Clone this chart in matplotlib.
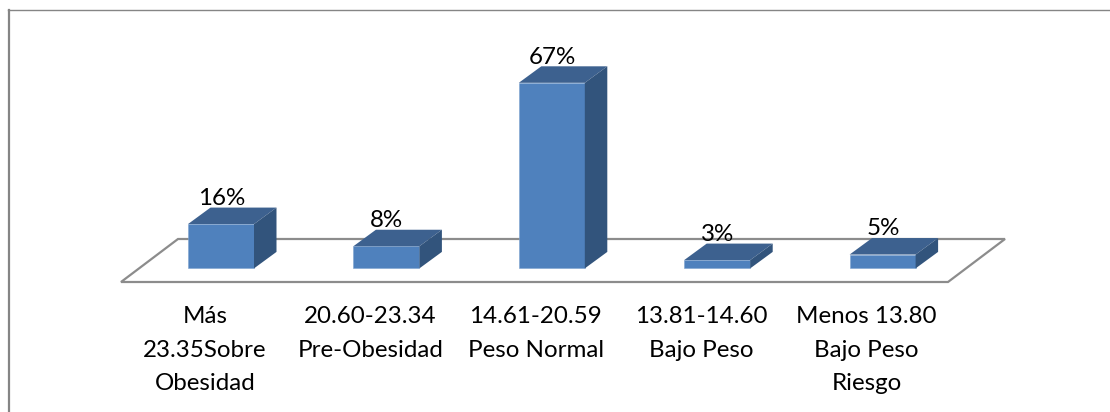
import matplotlib
matplotlib.use('Agg')
import matplotlib.pyplot as plt
from matplotlib.patches import Polygon

# Chart data
categories = ["Más\n23.35Sobre\nObesidad", "20.60-23.34\nPre-Obesidad", "14.61-20.59\nPeso Normal",
              "13.81-14.60\nBajo Peso", "Menos 13.80\nBajo Peso\nRiesgo"]
values = [16, 8, 67, 3, 5]
labels = ["16%", "8%", "67%", "3%", "5%"]

front_color = "#4f81bd"
top_color = "#3d618f"
side_color = "#32547c"
floor_color = "#8c8c8c"
border_color = "#858585"

plt.rcParams['font.family'] = ['Lato', 'DejaVu Sans']

W, H = 1110, 412
fig = plt.figure(figsize=(W / 100, H / 100), dpi=100)

# Axes span the floor of the pseudo 3D plot, one x unit per category
ax = fig.add_axes([121 / W, (H - 282) / H, (1006 - 121) / W, (282 - 60) / H])
px_x = 165.4
px_y = 2.77
x0 = (121 - 221) / px_x
y0 = (268.4 - 282) / px_y
ax.set_xlim(x0, x0 + (1006 - 121) / px_x)
ax.set_ylim(y0, y0 + (282 - 60) / px_y)
ax.axis('off')

bar_w = 66 / px_x
dx = 22.5 / px_x
dy = 16.5 / px_y

# Floor parallelogram
floor_left = x0
floor_right = (948 - 221) / px_x
floor_back = (268.4 - 239) / px_y
floor_dx = (178 - 121) / px_x
ax.add_patch(Polygon([(floor_left, y0), (floor_right, y0),
                      (floor_right + floor_dx, floor_back), (floor_left + floor_dx, floor_back)],
                     closed=True, facecolor='white', edgecolor=floor_color, linewidth=1.6,
                     joinstyle='miter', clip_on=False, zorder=1))

# Front faces, then the top and side of each box
bars = ax.bar(range(len(values)), values, width=bar_w, color=front_color, zorder=3,
              edgecolor='#7ea3cf', linewidth=0.4)
for i, v in enumerate(values):
    l = i - bar_w / 2
    r = i + bar_w / 2
    ax.add_patch(Polygon([(l, v), (r, v), (r + dx, v + dy), (l + dx, v + dy)],
                         closed=True, facecolor=top_color, edgecolor='none', zorder=3))
    ax.add_patch(Polygon([(r, 0), (r + dx, dy), (r + dx, v + dy), (r, v)],
                         closed=True, facecolor=side_color, edgecolor='none', zorder=3))
    ax.text(i + 0.003, v + dy - 0.5, labels[i], ha='center', va='bottom', fontsize=17.4, color='black',
            zorder=4, clip_on=False)

# Category labels below the floor, set a little left of the boxes
for i, c in enumerate(categories):
    ax.annotate(c, xy=(i, y0), xytext=(-11.5, -17.5), textcoords='offset points', ha='center', va='top',
                fontsize=17.4, color='black', linespacing=1.72, annotation_clip=False)

# Chart area border, cut off by the image on the right and at the bottom
fig.add_artist(plt.Line2D([8.5 / W, 8.5 / W], [0, (H - 9.5) / H], color=border_color, linewidth=1.6))
fig.add_artist(plt.Line2D([8 / W, 1], [(H - 9.5) / H, (H - 9.5) / H], color=border_color, linewidth=1.0))

fig.savefig("out.png", dpi=100)
plt.close('all')
